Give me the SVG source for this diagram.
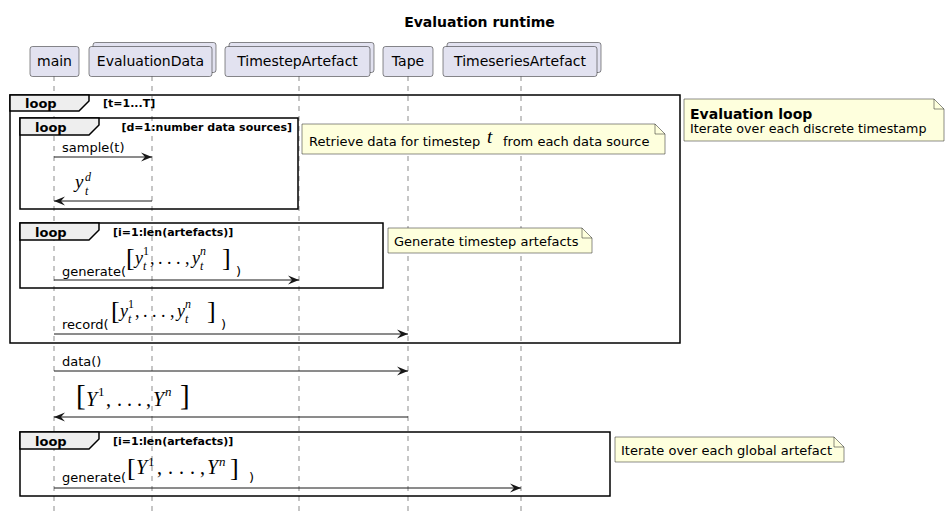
<svg xmlns="http://www.w3.org/2000/svg" width="950" height="519" viewBox="0 0 950 519">
<style>
text{font-family:"DejaVu Sans","Noto Sans",sans-serif;fill:#000}
.title{font-size:14px;font-weight:bold}
.pt{font-size:14px;text-anchor:middle}
.pbox{fill:#E2E2F0;stroke:#181818;stroke-width:0.5}
.life{stroke:#181818;stroke-width:0.5;stroke-dasharray:5,5}
.frame{fill:none;stroke:#000;stroke-width:1.5}
.tab{fill:#EEEEEE;stroke:#000;stroke-width:1.5}
.lk{font-size:13px;font-weight:bold}
.lc{font-size:11px;font-weight:bold}
.msg{stroke:#181818;stroke-width:1;marker-end:url(#arr)}
.mt{font-size:13px}
.note{fill:#FEFFDD;stroke:#181818;stroke-width:0.5}
.fold{fill:none;stroke:#181818;stroke-width:0.5}
.nt{font-size:13px}
text.mr,.mr{font-family:"Liberation Serif","DejaVu Serif",serif;font-style:normal}
.m{font-style:italic}
</style>
<defs>
<marker id="arr" markerUnits="userSpaceOnUse" markerWidth="12" markerHeight="10" viewBox="0 0 12 10" refX="11" refY="5" orient="auto">
<path d="M0,0.5 L11,5 L0,9.5 L4,5 Z" fill="#181818"/>
</marker>
</defs>
<rect width="950" height="519" fill="#fff"/>
<text class="title" x="479.5" y="27" text-anchor="middle">Evaluation runtime</text>

<g id="lifelines">
<line class="life" x1="54" y1="76" x2="54" y2="514"/>
<line class="life" x1="152" y1="76" x2="152" y2="514"/>
<line class="life" x1="299" y1="76" x2="299" y2="514"/>
<line class="life" x1="408" y1="76" x2="408" y2="514"/>
<line class="life" x1="521" y1="76" x2="521" y2="514"/>
</g>

<g id="main"><rect class="pbox" x="30" y="46.5" width="49" height="30" rx="2.5"/><text class="pt" x="54.5" y="66">main</text></g>
<g id="EvaluationData"><rect class="pbox" x="93" y="42.5" width="123" height="30" rx="2.5"/><rect class="pbox" x="89" y="46.5" width="123" height="30" rx="2.5"/><text class="pt" x="150.5" y="66">EvaluationData</text></g>
<g id="TimestepArtefact"><rect class="pbox" x="229" y="42.5" width="145" height="30" rx="2.5"/><rect class="pbox" x="225" y="46.5" width="145" height="30" rx="2.5"/><text class="pt" x="297.5" y="66">TimestepArtefact</text></g>
<g id="Tape"><rect class="pbox" x="383" y="46.5" width="50" height="30" rx="2.5"/><text class="pt" x="408" y="66">Tape</text></g>
<g id="TimeseriesArtefact"><rect class="pbox" x="447" y="42.5" width="154" height="30" rx="2.5"/><rect class="pbox" x="443" y="46.5" width="154" height="30" rx="2.5"/><text class="pt" x="520" y="66">TimeseriesArtefact</text></g>

<g id="loop-outer">
<rect class="frame" x="10" y="95" width="670" height="248"/>
<path class="tab" d="M10,95 L89,95 L89,101 L79,111 L10,111 Z"/>
<text class="lk" x="25" y="108">loop</text>
<text class="lc" x="103" y="107">[t=1...T]</text>
</g>
<g id="loop-data">
<rect class="frame" x="20" y="118" width="278" height="91"/>
<path class="tab" d="M20,118 L99,118 L99,125 L89,135 L20,135 Z"/>
<text class="lk" x="35" y="132">loop</text>
<text class="lc" x="292" y="131" text-anchor="end">[d=1:number data sources]</text>
</g>
<g id="loop-artefacts">
<rect class="frame" x="20" y="223" width="363" height="65"/>
<path class="tab" d="M20,223 L99,223 L99,230 L89,240 L20,240 Z"/>
<text class="lk" x="35" y="237">loop</text>
<text class="lc" x="113" y="236">[i=1:len(artefacts)]</text>
</g>
<g id="loop-global">
<rect class="frame" x="20" y="432" width="590" height="64"/>
<path class="tab" d="M20,432 L99,432 L99,439 L89,449 L20,449 Z"/>
<text class="lk" x="35" y="446">loop</text>
<text class="lc" x="113" y="445">[i=1:len(artefacts)]</text>
</g>

<g id="connectors">
<line class="msg" x1="54" y1="157" x2="152" y2="157"/>
<line class="msg" x1="152" y1="201" x2="54" y2="201"/>
<line class="msg" x1="54" y1="280" x2="299" y2="280"/>
<line class="msg" x1="54" y1="334" x2="408" y2="334"/>
<line class="msg" x1="54" y1="371" x2="408" y2="371"/>
<line class="msg" x1="408" y1="417" x2="54" y2="417"/>
<line class="msg" x1="54" y1="488" x2="521" y2="488"/>
</g>

<g id="labels">
<text class="mt" x="62" y="152">sample(t)</text>
<text class="mr" font-size="12"><tspan class="m" x="75" y="188" font-size="19">y</tspan><tspan class="m" x="85" y="181">d</tspan><tspan class="m" x="85" y="195">t</tspan></text>

<text class="mt" x="62" y="276">generate(</text>
<text class="mr" font-size="18"><tspan x="126" y="266" font-size="26">[</tspan><tspan class="m" x="135" y="264">y</tspan><tspan x="143" y="255" font-size="12">1</tspan><tspan class="m" x="143" y="270" font-size="12">t</tspan><tspan x="150" y="264">,</tspan><tspan x="158" y="264">.</tspan><tspan x="167" y="264">.</tspan><tspan x="176" y="264">.</tspan><tspan x="185" y="264">,</tspan><tspan class="m" x="192" y="264">y</tspan><tspan class="m" x="200" y="255" font-size="12">n</tspan><tspan class="m" x="200" y="270" font-size="12">t</tspan><tspan x="222" y="266" font-size="26">]</tspan></text>
<text class="mt" x="236" y="276">)</text>

<text class="mt" x="62" y="329">record(</text>
<text class="mr" font-size="18"><tspan x="111" y="319" font-size="26">[</tspan><tspan class="m" x="120" y="317">y</tspan><tspan x="128" y="308" font-size="12">1</tspan><tspan class="m" x="128" y="323" font-size="12">t</tspan><tspan x="135" y="317">,</tspan><tspan x="143" y="317">.</tspan><tspan x="152" y="317">.</tspan><tspan x="161" y="317">.</tspan><tspan x="170" y="317">,</tspan><tspan class="m" x="177" y="317">y</tspan><tspan class="m" x="185" y="308" font-size="12">n</tspan><tspan class="m" x="185" y="323" font-size="12">t</tspan><tspan x="207" y="319" font-size="26">]</tspan></text>
<text class="mt" x="221" y="329">)</text>

<text class="mt" x="62" y="366">data()</text>

<text class="mr" font-size="20"><tspan x="76" y="405" font-size="29">[</tspan><tspan class="m" x="86" y="406">Y</tspan><tspan x="98" y="396" font-size="13">1</tspan><tspan x="106" y="406">,</tspan><tspan x="117" y="406">.</tspan><tspan x="127" y="406">.</tspan><tspan x="137" y="406">.</tspan><tspan x="146" y="406">,</tspan><tspan class="m" x="153" y="406">Y</tspan><tspan class="m" x="165" y="396" font-size="13">n</tspan><tspan x="180" y="405" font-size="29">]</tspan></text>

<text class="mt" x="62" y="482">generate(</text>
<text class="mr" font-size="20"><tspan x="127" y="476" font-size="26">[</tspan><tspan class="m" x="136" y="474">Y</tspan><tspan x="148" y="466" font-size="13">1</tspan><tspan x="157" y="474">,</tspan><tspan x="168" y="474">.</tspan><tspan x="179" y="474">.</tspan><tspan x="190" y="474">.</tspan><tspan x="200" y="474">,</tspan><tspan class="m" x="207" y="474">Y</tspan><tspan class="m" x="219" y="466" font-size="13">n</tspan><tspan x="230" y="476" font-size="26">]</tspan></text>
<text class="mt" x="249" y="482">)</text>
</g>

<g id="note-retrieve">
<path class="note" d="M302,124 L655,124 L665,134 L665,154 L302,154 Z"/>
<path class="fold" d="M655,124 L655,134 L665,134"/>
<text class="nt" x="309" y="146">Retrieve data for timestep</text>
<text class="mr m" x="487" y="143" font-size="19" style="font-style:italic">t</text>
<text class="nt" x="503" y="146">from each data source</text>
</g>
<g id="note-generate">
<path class="note" d="M388,228 L582,228 L592,238 L592,253 L388,253 Z"/>
<path class="fold" d="M582,228 L582,238 L592,238"/>
<text class="nt" x="394" y="246">Generate timestep artefacts</text>
</g>
<g id="note-evaluation">
<path class="note" d="M684,99 L934,99 L944,109 L944,141 L684,141 Z"/>
<path class="fold" d="M934,99 L934,109 L944,109"/>
<text x="690" y="119" font-size="14" font-weight="bold">Evaluation loop</text>
<text x="690" y="133" font-size="12.7">Iterate over each discrete timestamp</text>
</g>
<g id="note-global">
<path class="note" d="M615,437 L834,437 L844,447 L844,462 L615,462 Z"/>
<path class="fold" d="M834,437 L834,447 L844,447"/>
<text class="nt" x="621" y="455">Iterate over each global artefact</text>
</g>
</svg>
